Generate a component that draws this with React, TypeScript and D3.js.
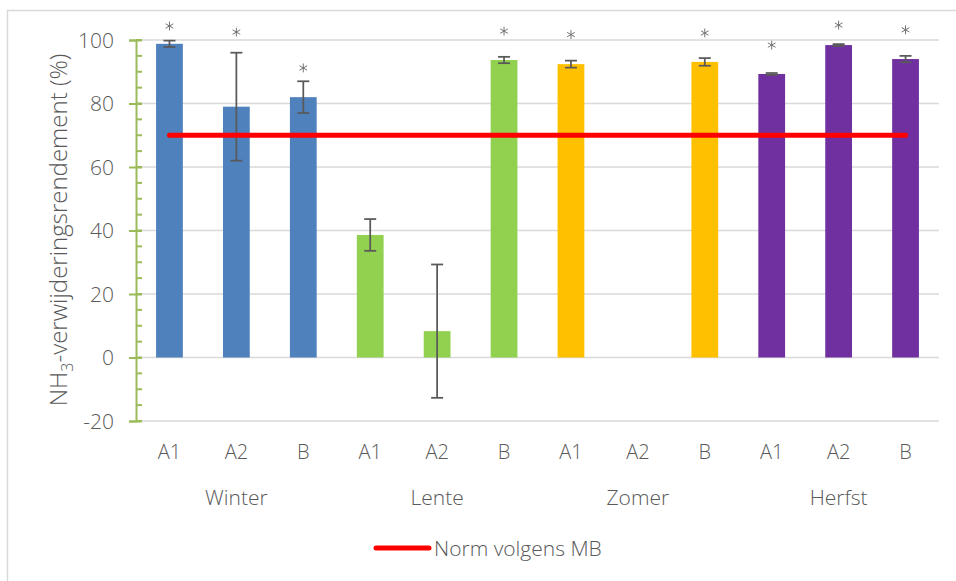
import * as d3 from 'd3'
import { useRef, useEffect } from 'react'

const seasons = ['Winter', 'Lente', 'Zomer', 'Herfst']
const subLabels = ['A1', 'A2', 'B']
const seasonColors = ['#4F81BD', '#92D050', '#FFC000', '#7030A0']

// one entry per bar, in order Winter A1..B, Lente A1..B, Zomer A1..B, Herfst A1..B
const values = [98.8, 79, 82, 38.6, 8.3, 93.7, 92.4, null, 93.1, 89.3, 98.4, 94.0]
const errors = [1, 17, 5, 5, 21, 1, 1.1, null, 1.2, 0.3, 0.3, 1]
const starLevels = [104.4, 102.5, 91.2, null, null, 102.8, 101.7, null, 102.2, 98.4, 104.7, 103.2]
const normValue = 70
const yTicks = [-20, 0, 20, 40, 60, 80, 100]

const FONT = "'Open Sans', sans-serif"
const GRAY = '#595959'

const App = () => {
  const ref = useRef<SVGSVGElement>(null)

  useEffect(() => {
    drawChart()
  }, [])

  const drawChart = () => {
    const svg = d3.select(ref.current)
    svg.selectAll('*').remove()

    const left = 136
    const right = 939
    const top = 40
    const bottom = 421

    // chart frame (cropped on right and bottom in the original)
    svg
      .append('rect')
      .attr('x', 7.5)
      .attr('y', 10.5)
      .attr('width', 960)
      .attr('height', 600)
      .attr('fill', 'none')
      .attr('stroke', '#D9D9D9')
      .attr('stroke-width', 1.5)

    const idx = values.map((_, i) => i)
    const x = d3.scaleBand().domain(idx.map(String)).range([left, right]).paddingInner(0.6).paddingOuter(0.3)
    const y = d3.scaleLinear().domain([-20, 100]).range([bottom, top])

    // gridlines
    svg
      .append('g')
      .selectAll('line')
      .data(yTicks)
      .enter()
      .append('line')
      .attr('x1', left)
      .attr('x2', right)
      .attr('y1', (d) => y(d))
      .attr('y2', (d) => y(d))
      .attr('stroke', '#D9D9D9')
      .attr('stroke-width', 1.5)

    // y axis: green line, major ticks crossing, minor ticks inside
    const yAxisG = svg.append('g').attr('transform', 'translate(' + left + ',0)')
    yAxisG
      .call(d3.axisLeft(y).tickValues(yTicks).tickSize(7).tickFormat(() => ''))
      .call((g) => g.select('.domain').attr('stroke', '#9BBB59').attr('stroke-width', 2))
      .call((g) => g.selectAll('.tick line').attr('stroke', '#9BBB59').attr('stroke-width', 2).attr('x2', -7).attr('x1', 6))
    yAxisG
      .append('g')
      .selectAll('line')
      .data(d3.range(-20, 101, 5))
      .enter()
      .append('line')
      .attr('x1', 0)
      .attr('x2', 6)
      .attr('y1', (d) => y(d))
      .attr('y2', (d) => y(d))
      .attr('stroke', '#9BBB59')
      .attr('stroke-width', 2)

    svg
      .append('g')
      .selectAll('text')
      .data(yTicks)
      .enter()
      .append('text')
      .attr('x', 114)
      .attr('y', (d) => y(d) + 7.5)
      .attr('text-anchor', 'end')
      .attr('font-family', FONT)
      .attr('font-weight', 300)
      .attr('font-size', 21)
      .attr('fill', GRAY)
      .text((d) => d)

    // y axis title
    const title = svg
      .append('text')
      .attr('transform', 'translate(67,230) rotate(-90)')
      .attr('text-anchor', 'middle')
      .attr('font-family', FONT)
      .attr('font-weight', 300)
      .attr('font-size', 24)
      .attr('fill', GRAY)
    title.append('tspan').text('NH')
    title.append('tspan').attr('font-size', 16).attr('dy', 6).text('3')
    title.append('tspan').attr('dy', -6).text('-verwijderingsrendement (%)')

    // bars
    const barData = idx.filter((i) => values[i] !== null)
    svg
      .append('g')
      .selectAll('rect')
      .data(barData)
      .enter()
      .append('rect')
      .attr('x', (i) => x(String(i)))
      .attr('y', (i) => y(Math.max(0, values[i])))
      .attr('width', x.bandwidth())
      .attr('height', (i) => Math.abs(y(values[i]) - y(0)))
      .attr('fill', (i) => seasonColors[Math.floor(i / 3)])

    // error bars
    const cx = (i) => x(String(i)) + x.bandwidth() / 2
    const errG = svg.append('g').attr('stroke', GRAY).attr('stroke-width', 1.75)
    barData.forEach((i) => {
      const lo = y(values[i] - errors[i])
      const hi = y(values[i] + errors[i])
      errG.append('line').attr('x1', cx(i)).attr('x2', cx(i)).attr('y1', lo).attr('y2', hi)
      errG.append('line').attr('x1', cx(i) - 6).attr('x2', cx(i) + 6).attr('y1', lo).attr('y2', lo)
      errG.append('line').attr('x1', cx(i) - 6).attr('x2', cx(i) + 6).attr('y1', hi).attr('y2', hi)
    })

    // significance asterisks
    const star = d3.symbol(d3.symbolAsterisk, 55)
    svg
      .append('g')
      .selectAll('path')
      .data(idx.filter((i) => starLevels[i] !== null))
      .enter()
      .append('path')
      .attr('transform', (i) => 'translate(' + cx(i) + ',' + y(starLevels[i]) + ')')
      .attr('d', star())
      .attr('fill', 'none')
      .attr('stroke', '#737373')
      .attr('stroke-width', 1)

    // norm line
    const normLine = d3.line()
    svg
      .append('path')
      .attr('d', normLine([[cx(0), y(normValue)], [cx(11), y(normValue)]]))
      .attr('stroke', '#FF0000')
      .attr('stroke-width', 5)
      .attr('stroke-linecap', 'round')
      .attr('fill', 'none')

    // category labels
    svg
      .append('g')
      .selectAll('text')
      .data(idx)
      .enter()
      .append('text')
      .attr('x', (i) => cx(i))
      .attr('y', 459)
      .attr('text-anchor', 'middle')
      .attr('font-family', FONT)
      .attr('font-weight', 300)
      .attr('font-size', 20)
      .attr('fill', GRAY)
      .text((i) => subLabels[i % 3])

    svg
      .append('g')
      .selectAll('text')
      .data(seasons)
      .enter()
      .append('text')
      .attr('x', (d, s) => cx(s * 3 + 1))
      .attr('y', 505)
      .attr('text-anchor', 'middle')
      .attr('font-family', FONT)
      .attr('font-weight', 300)
      .attr('font-size', 21)
      .attr('fill', GRAY)
      .text((d) => d)

    // legend
    const legend = svg.append('g')
    legend
      .append('line')
      .attr('x1', 376)
      .attr('x2', 429)
      .attr('y1', 548)
      .attr('y2', 548)
      .attr('stroke', '#FF0000')
      .attr('stroke-width', 5)
      .attr('stroke-linecap', 'round')
    legend
      .append('text')
      .attr('x', 434)
      .attr('y', 555.5)
      .attr('font-family', FONT)
      .attr('font-weight', 300)
      .attr('font-size', 21)
      .attr('fill', GRAY)
      .text('Norm volgens MB')
  }

  return (
    <div style={{ position: 'absolute', left: 0, top: 0 }}>
      <svg ref={ref} width={956} height={581} style={{ display: 'block', background: '#fff' }}></svg>
    </div>
  )
}

export default App
